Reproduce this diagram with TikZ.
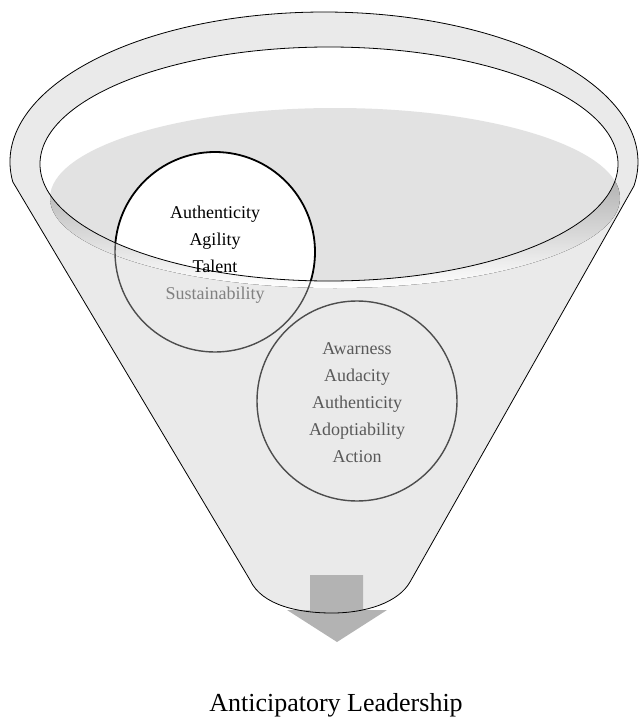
\documentclass[tikz,border=0pt]{standalone}
\usepackage{fontspec}
\setmainfont{Liberation Serif}
\usepackage{tikz}
\usetikzlibrary{positioning}
\definecolor{funnel}{HTML}{EAEAEA}
\definecolor{liquid}{HTML}{E2E2E2}
\definecolor{shade}{HTML}{D9D9D9}
\definecolor{arrowgray}{HTML}{B3B3B3}
\definecolor{ringgray}{HTML}{4D4D4D}
\definecolor{textgray}{HTML}{595959}

\begin{document}
\begin{tikzpicture}[x=1pt,y=-1pt]
  \tikzstyle{Ring}=[circle,minimum size=200pt,inner sep=0pt,draw=ringgray,line width=1.4pt]
  \tikzstyle{Words}=[align=center,font=\fontsize{18}{27}\selectfont]
  \useasboundingbox (0,0) rectangle (640,720);

  % funnel body
  \fill[funnel] (324,162) ++(187.6:314pt and 150pt)
    arc[start angle=187.6,end angle=-9.2,x radius=314pt,y radius=150pt]
    -- (410,582) .. controls (398,603) and (365,613) .. (332,613)
    .. controls (300,613) and (262,606) .. (250,580) -- cycle;
  \fill[shade] (335,198) ellipse [x radius=285pt,y radius=90pt];

  % down arrow
  \fill[arrowgray] (310,575) -- (363,575) -- (363,610) -- (387,610)
    -- (337,642) -- (287,610) -- (310,610) -- cycle;

  \draw[line width=0.8pt] (324,162) ++(187.6:314pt and 150pt)
    arc[start angle=187.6,end angle=-9.2,x radius=314pt,y radius=150pt]
    -- (410,582) .. controls (398,603) and (365,613) .. (332,613)
    .. controls (300,613) and (262,606) .. (250,580) -- cycle;

  % circles
  \node[Ring] (c1) at (215,252) {};
  \node[Ring] (c2) at (357,401) {};

  % opening
  \begin{scope}
    \clip (329,164) ellipse [x radius=289pt,y radius=117pt];
    \fill[white] (329,164) ellipse [x radius=289pt,y radius=117pt];
    \fill[liquid] (335,198) ellipse [x radius=285pt,y radius=90pt];
    \fill[white] (c1.center) circle [radius=100pt];
    \draw[line width=1.8pt] (c1.center) circle [radius=100pt];
  \end{scope}
  \draw[line width=0.8pt] (329,164) ellipse [x radius=289pt,y radius=117pt];

  \node[Words] (t1) at (215,255) {Authenticity\\Agility\\Talent\\\textcolor{gray}{Sustainability}};
  \node[Words,text=textgray] (t2) at (357,403) {Awarness\\Audacity\\Authenticity\\Adoptiability\\Action};

  \node[font=\fontsize{26}{30}\selectfont,anchor=base] (title) at (336,711) {Anticipatory Leadership};
\end{tikzpicture}
\end{document}
